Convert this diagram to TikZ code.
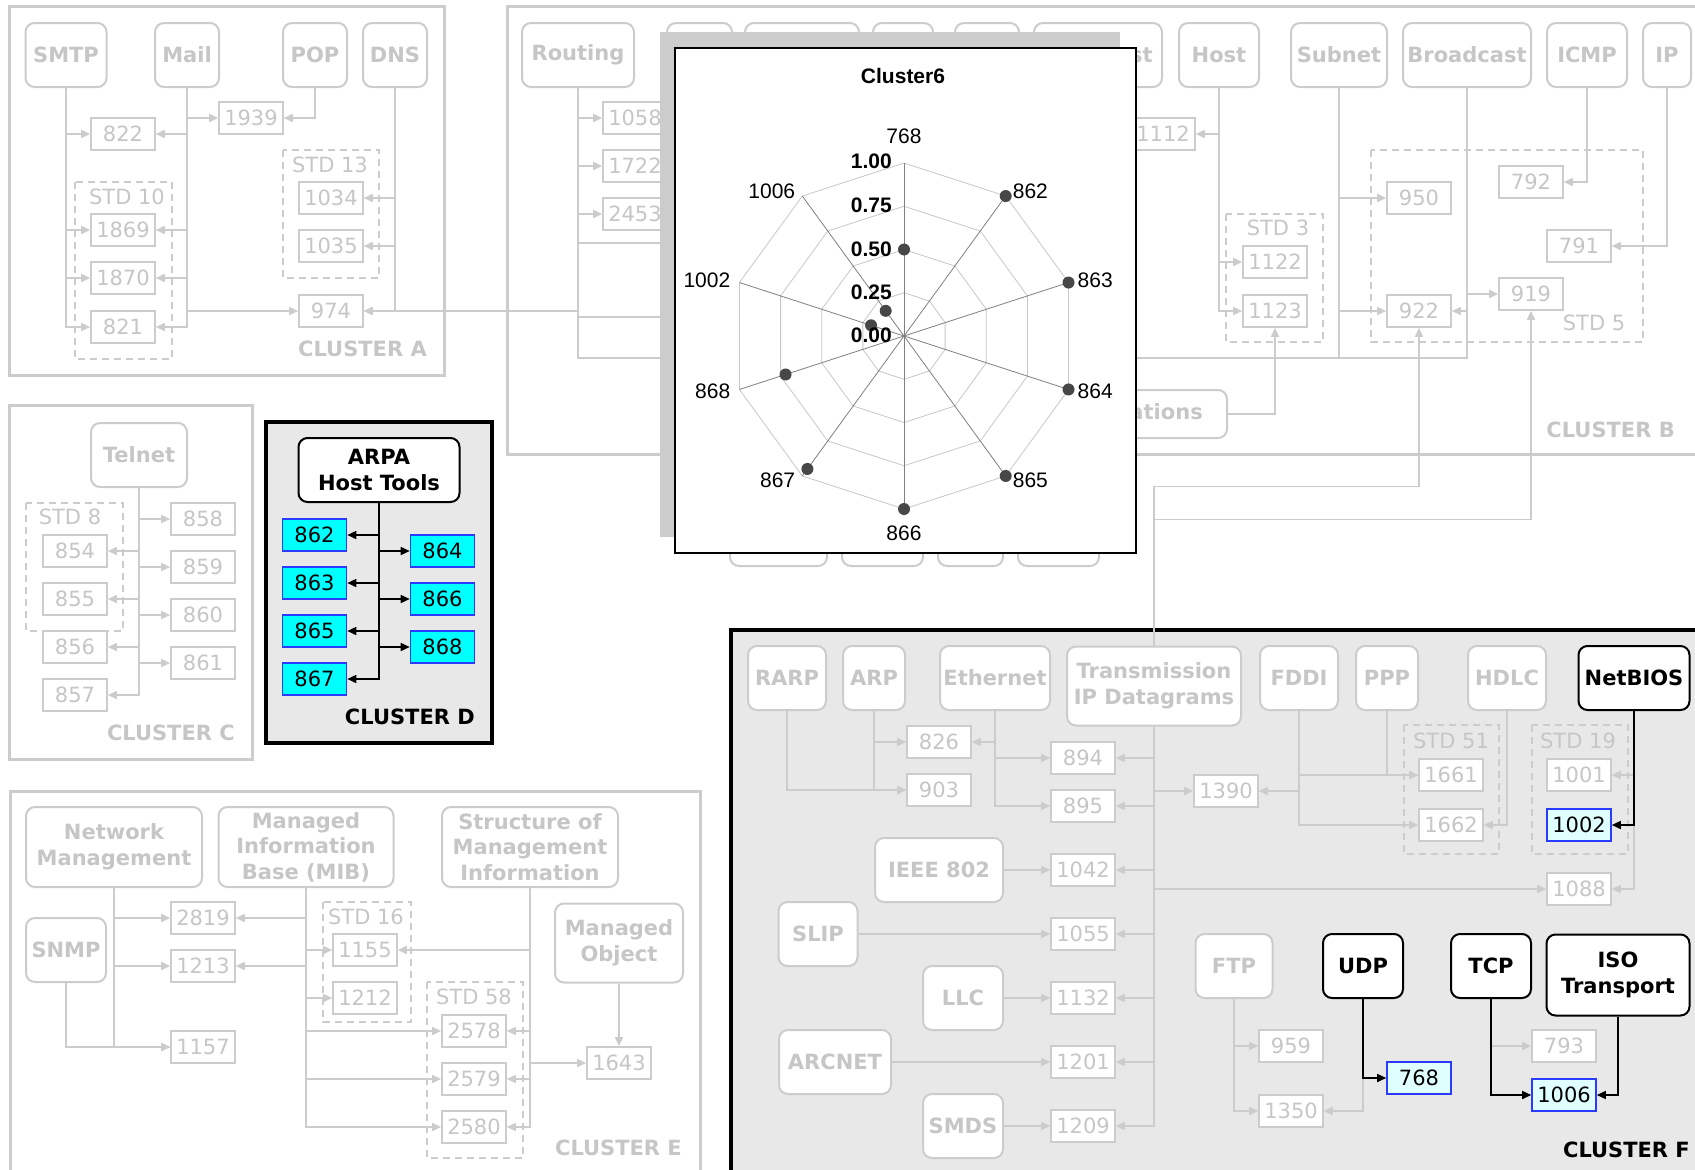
\documentclass[tikz,border=0pt]{standalone}
\usepackage{fontspec}
\setmainfont{DejaVu Sans}
\newfontfamily\chartfont{Liberation Sans}
\usetikzlibrary{arrows.meta}
\definecolor{faded}{HTML}{CCCCCC}
\definecolor{fadetext}{HTML}{C6C6C6}
\definecolor{panel}{HTML}{E8E8E8}
\definecolor{cyanfill}{HTML}{00FFFF}
\definecolor{palecyan}{HTML}{E0FFFF}
\definecolor{rimblue}{HTML}{2A3BFF}
\AtBeginDocument{\fontsize{21}{25.5}\selectfont}
\tikzset{
  clusterframe/.style={draw=faded, line width=3pt},
  hotframe/.style={draw=black, line width=3.5pt, fill=panel},
  topic/.style={draw=faded, line width=2pt, rounded corners=9pt, fill=white, text=fadetext, font=\bfseries, minimum height=64pt, inner sep=0pt, align=center},
  hot/.style={topic, draw=black, text=black},
  rfc/.style={draw=faded, line width=1.6pt, fill=white, text=fadetext, minimum width=64pt, minimum height=32pt, inner sep=0pt},
  picked/.style={rfc, draw=rimblue, fill=cyanfill, text=black},
  touched/.style={rfc, draw=rimblue, fill=palecyan, text=black},
  stdframe/.style={draw=faded, line width=2pt, dash pattern=on 7pt off 5pt},
  stdtag/.style={text=fadetext, inner sep=0pt},
  clustertag/.style={font=\bfseries, text=fadetext, inner sep=0pt, anchor=east},
  hottag/.style={clustertag, text=black},
  link/.style={draw=faded, line width=1.6pt, -{Triangle[length=9pt, width=8pt]}},
  hotlink/.style={link, draw=black},
  wire/.style={draw=faded, line width=1.6pt},
  gridline/.style={draw=black!22, line width=0.8pt},
  spoke/.style={draw=black!50, line width=0.8pt},
  axistag/.style={font=\chartfont, inner sep=0pt},
  ringtag/.style={font=\chartfont\bfseries, inner sep=0pt, anchor=east}
}
\begin{document}
\begin{tikzpicture}[x=1pt, y=-1pt]
    \useasboundingbox (0,0) rectangle (1695,1170);
    \clip (0,0) rectangle (1695,1170);

    \draw[clusterframe] (9,6) rectangle (444,375);
    \draw[clusterframe] (507,6) rectangle (1730,454);
    \draw[clusterframe] (9,405) rectangle (252,759);
    \draw[hotframe] (266,422) rectangle (492,743);
    \draw[clusterframe] (10,791) rectangle (700,1200);
    \draw[hotframe] (731,630) rectangle (1730,1200);

    \node[topic, minimum width=81pt] (smtp) at (66,55) {SMTP};
    \node[topic, minimum width=64pt] (mail) at (187,55) {Mail};
    \node[topic, minimum width=64pt] (pop) at (315,55) {POP};
    \node[topic, minimum width=64pt] (dns) at (395,55) {DNS};
    \node[rfc] (r1939) at (251,118) {1939};
    \node[rfc] (r822) at (123,134) {822};
    \draw[stdframe] (75,182) rectangle (172,359);
    \node[stdtag] (std10) at (127,197) {STD 10};
    \node[rfc] (r1869) at (123,230) {1869};
    \node[rfc] (r1870) at (123,278) {1870};
    \node[rfc] (r821) at (123,327) {821};
    \draw[stdframe] (283,150) rectangle (379,278);
    \node[stdtag] (std13) at (330,165) {STD 13};
    \node[rfc] (r1034) at (331,198) {1034};
    \node[rfc] (r1035) at (331,246) {1035};
    \node[rfc] (r974) at (331,311) {974};
    \node[clustertag] (clusterA) at (427,349) {CLUSTER A};

    \node[topic, minimum width=112pt] (routing) at (578,55) {Routing};
    \node[topic, minimum width=65pt] (hidA) at (699.5,55) {};
    \node[topic, minimum width=114pt] (hidB) at (802,55) {};
    \node[topic, minimum width=60pt] (hidC) at (903,55) {};
    \node[topic, minimum width=64pt] (hidD) at (987,55) {};
    \node[topic, minimum width=128pt] (mcast) at (1098,55) {Multicast};
    \node[topic, minimum width=80pt] (host) at (1219,55) {Host};
    \node[topic, minimum width=96pt] (subnet) at (1339,55) {Subnet};
    \node[topic, minimum width=128pt] (bcast) at (1467,55) {Broadcast};
    \node[topic, minimum width=80pt] (icmp) at (1587,55) {ICMP};
    \node[topic, minimum width=48pt] (ip) at (1667,55) {IP};
    \node[rfc] (r1058) at (635,118) {1058};
    \node[rfc] (r1722) at (635,166) {1722};
    \node[rfc] (r2453) at (635,214) {2453};
    \node[rfc] (r1112) at (1163,134) {1112};
    \draw[stdframe] (1226,214) rectangle (1323,342);
    \node[stdtag] (std3) at (1278,228) {STD 3};
    \node[rfc] (r1122) at (1275,262) {1122};
    \node[rfc] (r1123) at (1275,311) {1123};
    \draw[stdframe] (1371,150) rectangle (1643,342);
    \node[stdtag] (std5) at (1594,323) {STD 5};
    \node[rfc] (r950) at (1419,198) {950};
    \node[rfc] (r792) at (1531,182) {792};
    \node[rfc] (r791) at (1579,246) {791};
    \node[rfc] (r919) at (1531,294) {919};
    \node[rfc] (r922) at (1419,311) {922};
    \node[topic, minimum width=195pt, minimum height=48pt] (apps) at (1129.5,414) {Applications};
    \node[topic, minimum width=97pt] (lowA) at (778.5,534) {};
    \node[topic, minimum width=81pt] (lowB) at (882.5,534) {};
    \node[topic, minimum width=65pt] (lowC) at (970.5,534) {};
    \node[topic, minimum width=81pt] (lowD) at (1058.5,534) {};
    \node[clustertag] (clusterB) at (1675,430) {CLUSTER B};

    \node[topic, minimum width=96pt] (telnet) at (139,455) {Telnet};
    \draw[stdframe] (26,503) rectangle (123,631);
    \node[stdtag] (std8) at (70,517) {STD 8};
    \node[rfc] (r854) at (75,551) {854};
    \node[rfc] (r855) at (75,599) {855};
    \node[rfc] (r856) at (75,647) {856};
    \node[rfc] (r857) at (75,695) {857};
    \node[rfc] (r858) at (203,519) {858};
    \node[rfc] (r859) at (203,567) {859};
    \node[rfc] (r860) at (203,615) {860};
    \node[rfc] (r861) at (203,663) {861};
    \node[clustertag] (clusterC) at (235,733) {CLUSTER C};

    \node[hot, minimum width=161pt] (arpa) at (379,470) {ARPA\\Host Tools};
    \node[picked] (d862) at (314.5,535) {862};
    \node[picked] (d863) at (314.5,583) {863};
    \node[picked] (d865) at (314.5,631) {865};
    \node[picked] (d867) at (314.5,679) {867};
    \node[picked] (d864) at (442.5,551) {864};
    \node[picked] (d866) at (442.5,599) {866};
    \node[picked] (d868) at (442.5,647) {868};
    \node[hottag] (clusterD) at (475,717) {CLUSTER D};

    \node[topic, minimum width=176pt, minimum height=80pt] (netmgmt) at (114,847) {Network\\Management};
    \node[topic, minimum width=175pt, minimum height=80pt] (mib) at (306,847) {Managed\\Information\\Base (MIB)};
    \node[topic, minimum width=176pt, minimum height=80pt] (smi) at (530,847) {Structure of\\Management\\Information};
    \node[topic, minimum width=80pt] (snmp) at (66,950) {SNMP};
    \node[topic, minimum width=128pt, minimum height=79pt] (mo) at (619,943) {Managed\\Object};
    \node[rfc] (r2819) at (203,918) {2819};
    \node[rfc] (r1213) at (203,966) {1213};
    \node[rfc] (r1157) at (203,1047) {1157};
    \draw[stdframe] (323,902) rectangle (411,1022);
    \node[stdtag] (std16) at (366,917) {STD 16};
    \node[rfc] (r1155) at (365,950) {1155};
    \node[rfc] (r1212) at (365,998) {1212};
    \draw[stdframe] (427,982) rectangle (523,1158);
    \node[stdtag] (std58) at (474,997) {STD 58};
    \node[rfc] (r2578) at (474,1031) {2578};
    \node[rfc] (r2579) at (474,1079) {2579};
    \node[rfc] (r2580) at (474,1127) {2580};
    \node[rfc] (r1643) at (619,1063) {1643};
    \node[clustertag] (clusterE) at (682,1148) {CLUSTER E};

    \node[topic, minimum width=78pt] (rarp) at (787,678) {RARP};
    \node[topic, minimum width=62pt] (arp) at (874,678) {ARP};
    \node[topic, minimum width=110pt] (ether) at (995,678) {Ethernet};
    \node[topic, minimum width=174pt, minimum height=79pt] (trans) at (1154,686) {Transmission\\IP Datagrams};
    \node[topic, minimum width=78pt] (fddi) at (1299,678) {FDDI};
    \node[topic, minimum width=62pt] (ppp) at (1387,678) {PPP};
    \node[topic, minimum width=78pt] (hdlc) at (1507,678) {HDLC};
    \node[hot, minimum width=111pt] (netbios) at (1634,678) {NetBIOS};
    \node[rfc] (r826) at (939,742) {826};
    \node[rfc] (r903) at (939,790) {903};
    \node[rfc] (r894) at (1083,758) {894};
    \node[rfc] (r895) at (1083,806) {895};
    \node[rfc] (r1390) at (1226,791) {1390};
    \draw[stdframe] (1404,725) rectangle (1499,854);
    \node[stdtag] (std51) at (1451,741) {STD 51};
    \node[rfc] (r1661) at (1451,775) {1661};
    \node[rfc] (r1662) at (1451,825) {1662};
    \draw[stdframe] (1532,725) rectangle (1628,854);
    \node[stdtag] (std19) at (1578,741) {STD 19};
    \node[rfc] (r1001) at (1579,775) {1001};
    \node[touched] (r1002) at (1579,825) {1002};
    \node[rfc] (r1088) at (1579,889) {1088};
    \node[topic, minimum width=128pt] (ieee) at (939,870) {IEEE 802};
    \node[rfc] (r1042) at (1083,870) {1042};
    \node[topic, minimum width=79pt] (slip) at (818,934) {SLIP};
    \node[rfc] (r1055) at (1083,934) {1055};
    \node[topic, minimum width=80pt] (llc) at (963,998) {LLC};
    \node[rfc] (r1132) at (1083,998) {1132};
    \node[topic, minimum width=112pt] (arcnet) at (835,1062) {ARCNET};
    \node[rfc] (r1201) at (1083,1062) {1201};
    \node[topic, minimum width=80pt] (smds) at (963,1126) {SMDS};
    \node[rfc] (r1209) at (1083,1126) {1209};
    \node[topic, minimum width=77pt] (ftp) at (1234,966) {FTP};
    \node[hot, minimum width=80pt] (udp) at (1363,966) {UDP};
    \node[hot, minimum width=80pt] (tcp) at (1491,966) {TCP};
    \node[hot, minimum width=143pt, minimum height=81pt] (iso) at (1618,975) {ISO\\Transport};
    \node[rfc] (r959) at (1291,1046) {959};
    \node[rfc] (r1350) at (1291,1111) {1350};
    \node[touched] (r768) at (1419,1078) {768};
    \node[rfc] (r793) at (1564,1046) {793};
    \node[touched] (r1006) at (1564,1095) {1006};
    \node[hottag] (clusterF) at (1690,1150) {CLUSTER F};

    \coordinate (lineA) at (720,243);
    \coordinate (lineB) at (720,317);
    \coordinate (busB) at (1467,358);

    \foreach \t in {r822,r1869,r1870,r821} \draw[link] (smtp.south) |- (\t);
    \foreach \t in {r1939,r822,r1869,r1870,r821,r974} \draw[link] (mail.south) |- (\t);
    \draw[link] (pop.south) |- (r1939);
    \foreach \t in {r1034,r1035,r974} \draw[link] (dns.south) |- (\t);

    \foreach \t in {r1058,r1722,r2453,r974} \draw[link] (routing.south) |- (\t);
    \draw[wire] (routing.south) |- (lineA);
    \draw[wire] (routing.south) |- (lineB);
    \draw[wire] (routing.south) |- (busB) -- (bcast.south);
    \draw[wire] (subnet.south) -- (subnet.south |- busB);
    \foreach \t in {r1112,r1122,r1123} \draw[link] (host.south) |- (\t);
    \draw[link] (apps.east) -| (r1123);
    \foreach \t in {r950,r922} \draw[link] (subnet.south) |- (\t);
    \foreach \t in {r922,r919} \draw[link] (bcast.south) |- (\t);
    \draw[link] (icmp.south) |- (r792);
    \draw[link] (ip.south) |- (r791);
    \draw[link] (trans.north) -- ++(0,-159) -| (r922);
    \draw[link] (trans.north) -- ++(0,-126) -| (r919);

    \foreach \t in {r858,r859,r860,r861,r854,r855,r856,r857} \draw[link] (telnet.south) |- (\t);
    \foreach \t in {d862,d863,d865,d867,d864,d866,d868} \draw[hotlink] (arpa.south) |- (\t);

    \foreach \t in {r2819,r1213,r1157} \draw[link] (netmgmt.south) |- (\t);
    \draw[link] (snmp.south) |- (r1157);
    \foreach \t in {r2819,r1213,r1155,r1212,r2578,r2579,r2580} \draw[link] (mib.south) |- (\t);
    \foreach \t in {r1155,r2578,r2579,r2580,r1643} \draw[link] (smi.south) |- (\t);
    \draw[link] (mo) -- (r1643);

    \draw[link] (rarp.south) |- (r903);
    \foreach \t in {r826,r903} \draw[link] (arp.south) |- (\t);
    \foreach \t in {r826,r894,r895} \draw[link] (ether.south) |- (\t);
    \foreach \t in {r894,r895,r1390,r1042,r1088,r1055,r1132,r1201,r1209} \draw[link] (trans.south) |- (\t);
    \draw[link] (ieee) -- (r1042);
    \draw[link] (slip) -- (r1055);
    \draw[link] (llc) -- (r1132);
    \draw[link] (arcnet) -- (r1201);
    \draw[link] (smds) -- (r1209);
    \foreach \t in {r1390,r1661,r1662} \draw[link] (fddi.south) |- (\t);
    \draw[link] (ppp.south) |- (r1661);
    \draw[link] (hdlc.south) |- (r1662);
    \foreach \t in {r1088,r1001} \draw[link] (netbios.south) |- (\t);
    \draw[hotlink] (netbios.south) |- (r1002);
    \foreach \t in {r959,r1350} \draw[link] (ftp.south) |- (\t);
    \draw[link] (udp.south) |- (r1350);
    \draw[hotlink] (udp.south) |- (r768);
    \draw[link] (tcp.south) |- (r793);
    \draw[hotlink] (tcp.south) |- (r1006);
    \draw[hotlink] (iso.south) |- (r1006);

    \fill[faded] (660,32) rectangle (1120,537);
    \draw[black, line width=1.2pt, fill=white] (675,48) rectangle (1136,553);
    \node[font=\chartfont\bfseries] (charttitle) at (903,76) {Cluster6};
    \begin{scope}[shift={(904,336)}, y=1pt]
        \foreach \k in {0.25,0.5,0.75,1}
            \draw[gridline] (90:{173*\k}) \foreach \a in {126,162,...,414} {-- (\a:{173*\k})} -- cycle;
        \foreach \a in {90,126,...,414}
            \draw[spoke] (0,0) -- (\a:173);
        \foreach \lab/\ang/\val/\anc/\dx/\dy in {768/90/0.50/south/0/19, 862/54/1.00/west/7/5, 863/18/1.00/west/9/2, 864/-18/1.00/west/9/-2, 865/-54/1.00/west/7/-4, 866/-90/1.00/north/0/-17, 867/-126/0.95/east/-7/-4, 868/-162/0.72/east/-9/-2, 1002/162/0.20/east/-9/2, 1006/126/0.18/east/-7/5} {
            \fill[black!72] (\ang:{173*\val}) circle (6pt);
            \node[axistag, anchor=\anc, xshift=\dx pt, yshift=\dy pt] (ax\lab) at (\ang:173) {\lab};
        }
        \node[ringtag] (ringA) at (-12,175) {1.00};
        \node[ringtag] (ringB) at (-12,131) {0.75};
        \node[ringtag] (ringC) at (-12,87) {0.50};
        \node[ringtag] (ringD) at (-12,44) {0.25};
        \node[ringtag] (ringE) at (-12,1) {0.00};
    \end{scope}
\end{tikzpicture}
\end{document}
